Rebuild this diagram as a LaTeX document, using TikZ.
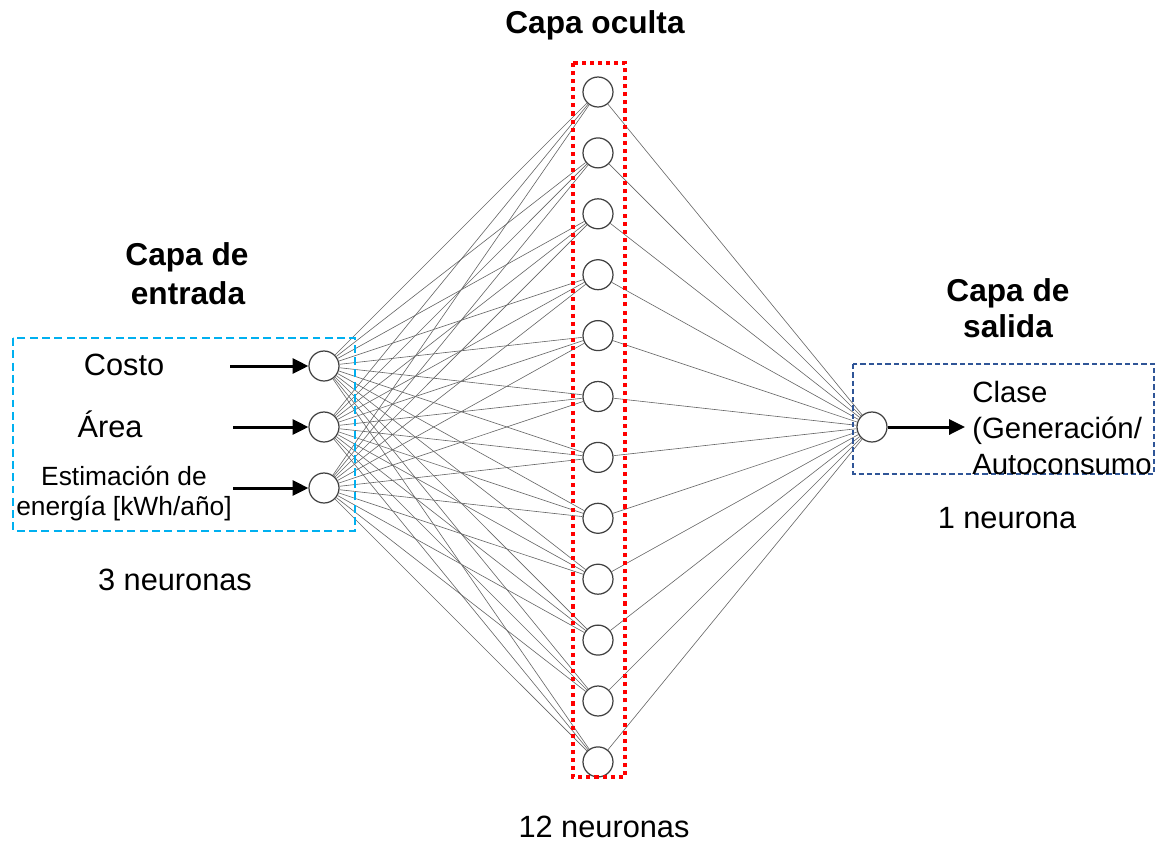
\documentclass[tikz,border=0pt]{standalone}
\usepackage{fontspec}
\setmainfont{Liberation Sans}
\usetikzlibrary{arrows.meta}
\definecolor{InClr}{RGB}{0,176,240}
\definecolor{OutClr}{RGB}{47,85,151}
\definecolor{HidClr}{RGB}{255,0,0}

\begin{document}
\begin{tikzpicture}[x=0.02cm,y=-0.02cm,
  neuron/.style={circle,draw=black!75,line width=0.7pt,fill=white,minimum size=0.6cm,inner sep=0pt},
  link/.style={draw=black!60,line width=0.35pt},
  feed/.style={line width=1.7pt,-{Triangle[length=9pt,width=8.5pt]}},
  txt/.style={font=\fontsize{17.5}{21}\selectfont,inner sep=0pt,anchor=base},
  small/.style={font=\fontsize{15}{18}\selectfont,inner sep=0pt,anchor=base},
  title/.style={font=\fontsize{18}{22}\selectfont\bfseries,inner sep=0pt,anchor=base}]
\useasboundingbox (0,0) rectangle (1161,846);

% neuronas
\foreach \i/\y in {1/366,2/427,3/488}
  \node[neuron] (I\i) at (324,\y) {};
\foreach \j in {1,...,12}
  \node[neuron] (H\j) at (598,{92+60.9*(\j-1)}) {};
\node[neuron] (O) at (872,427) {};

% conexiones
\foreach \i in {1,2,3}
  \foreach \j in {1,...,12}
    \draw[link] (I\i) -- (H\j);
\foreach \j in {1,...,12}
  \draw[link] (H\j) -- (O);

% cajas de las capas
\draw[InClr,line width=1.1pt,dash pattern=on 4.5pt off 2.5pt] (13,338) rectangle (355,531);
\draw[HidClr,line width=2.3pt,dash pattern=on 2.3pt off 2.3pt] (573,63) rectangle (625,777);
\draw[OutClr,line width=1.1pt,dash pattern=on 3pt off 1.7pt] (853,364) rectangle (1154,474);

% entradas
\coordinate (e1) at (230,366);
\coordinate (e2) at (233,427);
\coordinate (e3) at (233,488);
\draw[feed] (e1) -- (I1);
\draw[feed] (e2) -- (I2);
\draw[feed] (e3) -- (I3);
\coordinate (s1) at (965,427);
\draw[feed] (O) -- (s1);

\node[txt] (costo) at (124,375) {Costo};
\node[txt] (area) at (110,437) {Área};
\node[small] (estim) at (124,485) {Estimación de};
\begin{scope}
  \clip (13,338) rectangle (355,520);
  \node[small] (energ) at (124,515) {energía [kWh/año]};
\end{scope}

\node[txt,font=\fontsize{16.7}{20}\selectfont,anchor=base west] (clase) at (972,402) {Clase};
\node[txt,font=\fontsize{16.7}{20}\selectfont,anchor=base west] (gen) at (972,438) {(Generación/};
\node[txt,font=\fontsize{16.7}{20}\selectfont,anchor=base west] (auto) at (972,474) {Autoconsumo};

% titulos
\node[title] (toculta) at (595,33) {Capa oculta};
\node[title] (tent1) at (187,265) {Capa de};
\node[title] (tent2) at (188,304) {entrada};
\node[title] (tsal1) at (1008,301) {Capa de};
\node[title] (tsal2) at (1008,337) {salida};

\node[txt] (n3) at (175,590) {3 neuronas};
\node[txt] (n12) at (604,837) {12 neuronas};
\node[txt] (n1) at (1007,528) {1 neurona};

\end{tikzpicture}
\end{document}
